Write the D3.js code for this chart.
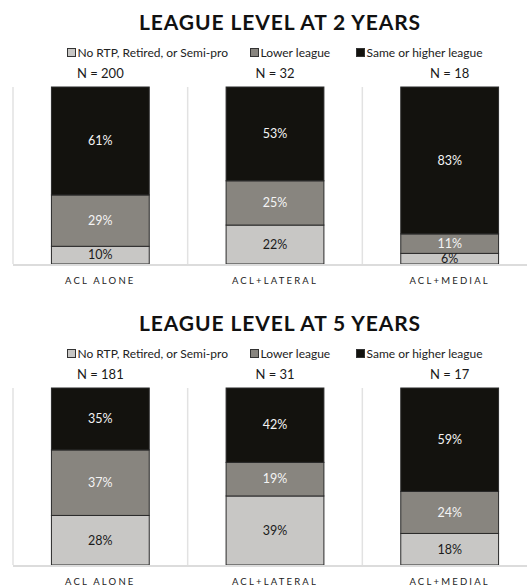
<!DOCTYPE html>
<html>
<head>
<meta charset="utf-8">
<script src="https://cdn.jsdelivr.net/npm/d3@7"></script>
<style>
  html, body { margin: 0; padding: 0; background: #ffffff; }
  svg { display: block; font-family: Lato, "Open Sans", sans-serif; }
</style>
</head>
<body>
<svg id="chart" width="527" height="587"></svg>
<script>
// Procedures and outcome groups
const groups = ["ACL ALONE", "ACL+LATERAL", "ACL+MEDIAL"];
const outcomes = ["No RTP, Retired, or Semi-pro", "Lower league", "Same or higher league"];
const outcomeKeys = ["none", "lower", "same"];

// League level at 2 years (%)
const year2None  = [10, 22, 6];
const year2Lower = [29, 25, 11];
const year2Same  = [61, 53, 83];
const year2N     = [200, 32, 18];

// League level at 5 years (%)
const year5None  = [28, 39, 18];
const year5Lower = [37, 19, 24];
const year5Same  = [35, 42, 59];
const year5N     = [181, 31, 17];

const titles = ["LEAGUE LEVEL AT 2 YEARS", "LEAGUE LEVEL AT 5 YEARS"];

const fills = ["#c8c7c5", "#88857f", "#13120e"];
const labelFills = ["#1b1b1b", "#f4f4f4", "#f4f4f4"];

const svg = d3.select("#chart");

const x = d3.scaleBand()
  .domain(groups)
  .range([13, 537])
  .paddingInner(0.44)
  .paddingOuter(0.22);

const y = d3.scaleLinear().domain([0, 1]).range([264, 87]);

const color = d3.scaleOrdinal().domain(outcomeKeys).range(fills);
const labelColor = d3.scaleOrdinal().domain(outcomeKeys).range(labelFills);

function drawPanel(g, title, none, lower, same, ns) {
  const rows = groups.map((grp, i) => ({ group: grp, none: none[i], lower: lower[i], same: same[i], n: ns[i] }));
  const series = d3.stack().keys(outcomeKeys).offset(d3.stackOffsetExpand)(rows);

  // Title
  g.append("text")
    .attr("x", 280).attr("y", 29.5)
    .attr("text-anchor", "middle")
    .attr("font-size", 21).attr("font-weight", 700)
    .attr("letter-spacing", 0.9)
    .attr("fill", "#111")
    .text(title);

  // Legend
  const legendX = [67, 250, 356];
  const legend = g.append("g").selectAll("g").data(outcomes).join("g")
    .attr("transform", (d, i) => `translate(${legendX[i]},53)`);
  legend.append("rect")
    .attr("x", 0.5).attr("y", -4.5).attr("width", 8).attr("height", 8)
    .attr("fill", (d, i) => fills[i]).attr("stroke", "#333").attr("stroke-width", 1);
  legend.append("text")
    .attr("x", 10.5).attr("y", 4.2)
    .attr("font-size", 12).attr("fill", "#222")
    .text(d => d);

  // N per group
  g.append("g").selectAll("text").data(rows).join("text")
    .attr("x", d => x(d.group) + x.bandwidth() / 2)
    .attr("y", 78)
    .attr("text-anchor", "middle")
    .attr("font-size", 13).attr("fill", "#1a1a1a")
    .text(d => `N = ${d.n}`);

  // Category separators
  const step = x.step();
  const seps = [13, 13 + step, 13 + 2 * step];
  g.append("g").selectAll("line").data(seps).join("line")
    .attr("x1", d => d).attr("x2", d => d)
    .attr("y1", y(1)).attr("y2", y(0))
    .attr("stroke", "#e2e2e2").attr("stroke-width", 1.5);

  // Stacked bars
  const layer = g.append("g").selectAll("g").data(series).join("g")
    .attr("fill", d => color(d.key));
  layer.selectAll("rect").data(d => d).join("rect")
    .attr("x", d => x(d.data.group))
    .attr("width", x.bandwidth())
    .attr("y", d => y(d[1]))
    .attr("height", d => y(d[0]) - y(d[1]))
    .attr("stroke", "#2a2a2a").attr("stroke-width", 1);

  // Segment value labels
  const labels = g.append("g").selectAll("g").data(series).join("g")
    .attr("fill", d => labelColor(d.key));
  labels.selectAll("text").data(d => d.map(v => ({ v, key: d.key }))).join("text")
    .attr("x", d => x(d.v.data.group) + x.bandwidth() / 2)
    .attr("y", d => (y(d.v[0]) + y(d.v[1])) / 2 + 4.3)
    .attr("text-anchor", "middle")
    .attr("font-size", 12.5)
    .text(d => `${d.v.data[d.key]}%`);

  // Baseline
  g.append("line")
    .attr("x1", 13).attr("x2", 527)
    .attr("y1", y(0) + 1).attr("y2", y(0) + 1)
    .attr("stroke", "#dcdcdc").attr("stroke-width", 2);

  // Category labels
  g.append("g").selectAll("text").data(groups).join("text")
    .attr("x", d => x(d) + x.bandwidth() / 2)
    .attr("y", 284)
    .attr("text-anchor", "middle")
    .attr("font-size", 9.5).attr("letter-spacing", 2.2)
    .attr("fill", "#222")
    .text(d => d);
}

drawPanel(svg.append("g"), titles[0], year2None, year2Lower, year2Same, year2N);
drawPanel(svg.append("g").attr("transform", "translate(0,301)"), titles[1], year5None, year5Lower, year5Same, year5N);
</script>
</body>
</html>
